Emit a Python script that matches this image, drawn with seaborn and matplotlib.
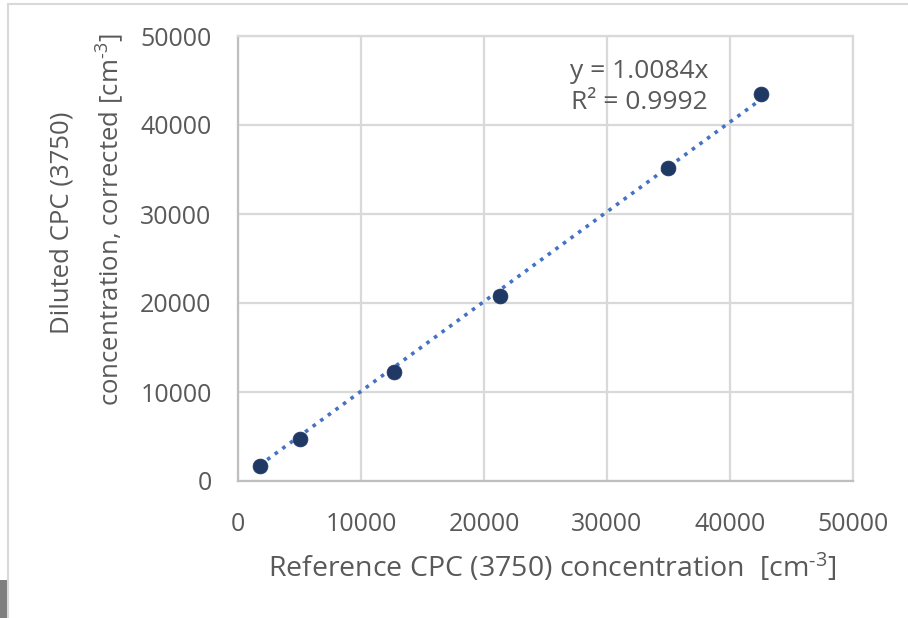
import numpy as np
import pandas as pd
import matplotlib
matplotlib.use("Agg")
import matplotlib.pyplot as plt
from matplotlib.lines import Line2D
from matplotlib.patches import Rectangle
from matplotlib.ticker import MultipleLocator
import seaborn as sns

# ---- data ----
reference_conc = [1760, 5050, 12720, 21330, 34950, 42560]
diluted_conc = [1690, 4760, 12290, 20750, 35210, 43520]
slope = 1.0084
r_squared = 0.9992
x_ticks = [0, 10000, 20000, 30000, 40000, 50000]
y_ticks = [0, 10000, 20000, 30000, 40000, 50000]

df = pd.DataFrame({"ref": reference_conc, "dil": diluted_conc})
trend = pd.DataFrame({"x": [min(reference_conc), max(reference_conc)]})
trend["y"] = slope * trend["x"]

sns.set_theme(style="white")
plt.rcParams["font.family"] = ["Open Sans", "DejaVu Sans"]
plt.rcParams["mathtext.fontset"] = "custom"
plt.rcParams["mathtext.rm"] = "Open Sans"
plt.rcParams["mathtext.it"] = "Open Sans"

TXT = "#595959"
GRID = "#d9d9d9"

fig = plt.figure(figsize=(9.08, 6.18), dpi=100)
ax = fig.add_axes([238/908, 1-481/618, (853-238)/908, (481-36)/618])

sns.lineplot(data=trend, x="x", y="y", ax=ax, color="#4472C4",
             linestyle=(0, (1, 1.6)), linewidth=2.6, zorder=3)
sns.scatterplot(data=df, x="ref", y="dil", ax=ax, s=115, color="#1F3864",
                edgecolor="#1F3864", linewidth=0.5, zorder=4)

ax.set_xlim(0, 50000)
ax.set_ylim(0, 50000)
ax.set_xticks(x_ticks)
ax.set_yticks(y_ticks)
ax.set_xticklabels([str(v) for v in x_ticks])
ax.set_yticklabels([str(v) for v in y_ticks])
ax.xaxis.set_minor_locator(MultipleLocator(2000))
ax.yaxis.set_minor_locator(MultipleLocator(2000))
ax.grid(True, which="major", color=GRID, linewidth=1.6)
ax.set_axisbelow(True)
ax.tick_params(which="major", length=0, labelsize=18, labelcolor=TXT)
ax.tick_params(axis="x", which="major", pad=22)
ax.tick_params(axis="y", which="major", pad=19)
ax.tick_params(which="minor", direction="in", length=6, width=1.2, color="#bfbfbf")
for s in ax.spines.values():
    s.set_color(GRID)
    s.set_linewidth(1.6)
ax.spines["left"].set_color("#bfbfbf")
ax.spines["bottom"].set_color("#bfbfbf")
ax.set_xlabel("")
ax.set_ylabel("")

ax.text(32600, 44300, f"y = {slope:.4f}x\nR² = {r_squared:.4f}", ha="center",
        va="center", fontsize=19, color=TXT, linespacing=1.3)

SUP = r"[cm$^{\mathregular{\u2010}3}$]".replace(r"\u2010", "\u2010")
fig.text(552/908, 1-568/618, "Reference CPC (3750) concentration  " + SUP,
         ha="center", va="center", fontsize=20.5, color=TXT)
fig.text(62/908, 1-223/618, "Diluted CPC (3750)", rotation=90,
         ha="center", va="center", fontsize=18.5, color=TXT)
fig.text(110/908, 1-220/618, "concentration, corrected " + SUP, rotation=90,
         ha="center", va="center", fontsize=18.5, color=TXT)

# outer frame lines and corner artifact
fig.add_artist(Line2D([8/908, 1], [1-4/618, 1-4/618], color="#d9d9d9", linewidth=1.5))
fig.add_artist(Line2D([8/908, 8/908], [0, 1-4/618], color="#d9d9d9", linewidth=1.5))
fig.add_artist(Rectangle((0, 0), 7/908, 38/618, transform=fig.transFigure,
                         facecolor="#7f7f7f", edgecolor="none"))

fig.savefig("out.png", dpi=100)
